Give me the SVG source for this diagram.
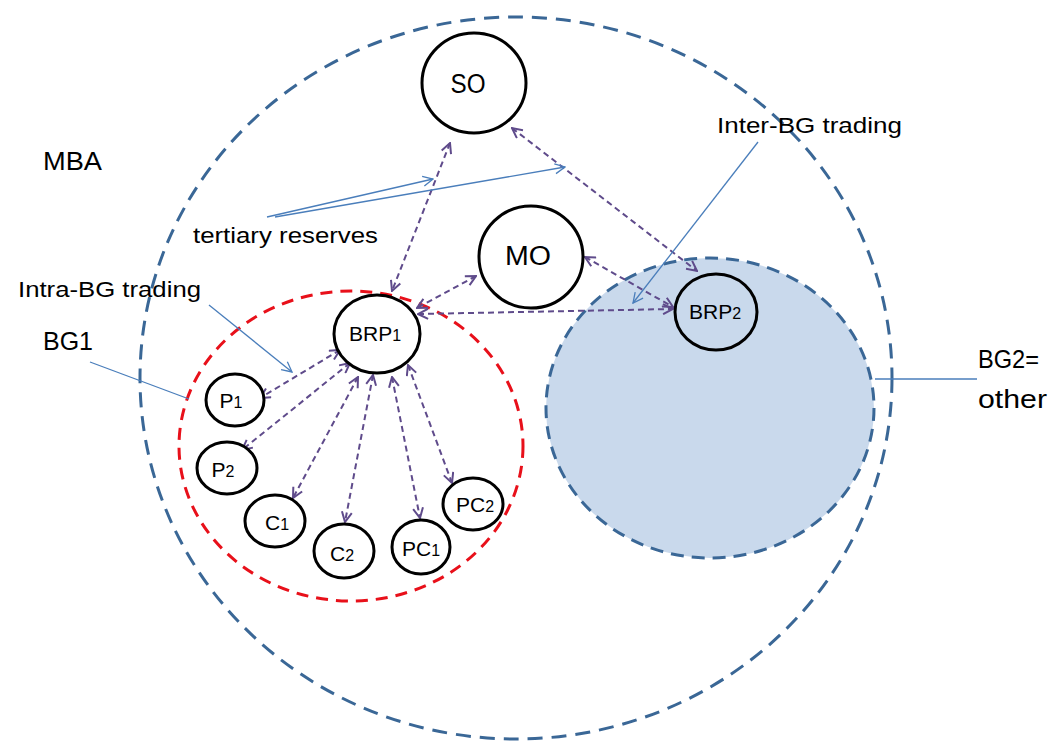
<svg xmlns="http://www.w3.org/2000/svg" width="1064" height="744" viewBox="0 0 1064 744">
<style>
text{font-family:"Liberation Sans",Arial,sans-serif;fill:#000}
.node{fill:#fff;stroke:#000;stroke-width:3}
.lbl{font-size:21px;text-anchor:middle}
.big{font-size:27px;text-anchor:middle}
.note{font-size:22px}
.rel{stroke:#5f4b8b;stroke-width:2;stroke-dasharray:6 4;fill:none;marker-start:url(#pa);marker-end:url(#pa)}
.call{stroke:#4a7ebb;stroke-width:1.3;fill:none}
.calla{stroke:#4a7ebb;stroke-width:1.3;fill:none;marker-end:url(#ba)}
</style>
<defs>
<marker id="pa" viewBox="0 0 12 12" refX="11" refY="6" markerWidth="12" markerHeight="12" markerUnits="userSpaceOnUse" orient="auto-start-reverse">
<path d="M1,1 L11,6 L1,11" fill="none" stroke="#5f4b8b" stroke-width="2"/>
</marker>
<marker id="ba" viewBox="0 0 12 12" refX="11" refY="6" markerWidth="12" markerHeight="12" markerUnits="userSpaceOnUse" orient="auto">
<path d="M1,1 L11,6 L1,11" fill="none" stroke="#4a7ebb" stroke-width="1.3"/>
</marker>
</defs>
<rect width="1064" height="744" fill="#fff"/>
<g id="areas">
<ellipse id="MBA-area" cx="516" cy="378" rx="376" ry="361" fill="none" stroke="#3a6796" stroke-width="3" stroke-dasharray="15 9"/>
<ellipse id="BG2-area" cx="710" cy="408" rx="164" ry="150" fill="#c9d9ec" stroke="#3a6796" stroke-width="3" stroke-dasharray="13 8"/>
<ellipse id="BG1-area" cx="351" cy="446" rx="172" ry="155" fill="none" stroke="#e8101a" stroke-width="3" stroke-dasharray="12 8"/>
</g>
<g id="connectors">
<line class="rel" x1="450" y1="143" x2="392" y2="291"/>
<line class="rel" x1="512" y1="128" x2="697" y2="271"/>
<line class="rel" x1="476" y1="276" x2="417" y2="308"/>
<line class="rel" x1="585" y1="257" x2="673" y2="307"/>
<line class="rel" x1="418" y1="314" x2="673" y2="309"/>
<line class="rel" x1="340" y1="350" x2="260" y2="398"/>
<line class="rel" x1="350" y1="363" x2="242" y2="450"/>
<line class="rel" x1="358" y1="377" x2="293" y2="498"/>
<line class="rel" x1="373" y1="375" x2="345" y2="522"/>
<line class="rel" x1="392" y1="377" x2="420" y2="518"/>
<line class="rel" x1="408" y1="365" x2="452" y2="483"/>
<line class="calla" x1="267" y1="217" x2="433" y2="179"/>
<line class="calla" x1="275" y1="217" x2="565" y2="167"/>
<line class="calla" x1="209" y1="305" x2="292" y2="372"/>
<line class="call" x1="90" y1="362" x2="189" y2="399"/>
<line class="calla" x1="758" y1="142" x2="633" y2="303"/>
<line class="call" x1="875" y1="379" x2="977" y2="379"/>
</g>
<g id="SO"><ellipse class="node" cx="474" cy="83" rx="52" ry="50"/><text class="big" x="468" y="93" textLength="35" lengthAdjust="spacingAndGlyphs">SO</text></g>
<g id="MO"><ellipse class="node" cx="531" cy="257" rx="52" ry="51"/><text class="big" x="528" y="265" textLength="46" lengthAdjust="spacingAndGlyphs">MO</text></g>
<g id="BRP1"><ellipse class="node" cx="377" cy="334" rx="43" ry="39"/><text class="lbl" x="375" y="341">BRP<tspan font-size="16">1</tspan></text></g>
<g id="BRP2"><ellipse cx="716" cy="312" rx="41" ry="38" fill="none" stroke="#000" stroke-width="3"/><text class="lbl" x="715" y="319">BRP<tspan font-size="16">2</tspan></text></g>
<g id="P1"><ellipse class="node" cx="235" cy="400" rx="29" ry="26"/><text class="lbl" x="231" y="408">P<tspan font-size="16">1</tspan></text></g>
<g id="P2"><ellipse class="node" cx="227" cy="468" rx="30" ry="26"/><text class="lbl" x="223" y="477">P<tspan font-size="16">2</tspan></text></g>
<g id="C1"><ellipse class="node" cx="275" cy="521" rx="30" ry="26"/><text class="lbl" x="277" y="530">C<tspan font-size="16">1</tspan></text></g>
<g id="C2"><ellipse class="node" cx="344" cy="551" rx="30" ry="27"/><text class="lbl" x="342" y="561">C<tspan font-size="16">2</tspan></text></g>
<g id="PC1"><ellipse class="node" cx="421" cy="547" rx="29" ry="27"/><text class="lbl" x="421" y="556">PC<tspan font-size="16">1</tspan></text></g>
<g id="PC2"><ellipse class="node" cx="473" cy="504" rx="30" ry="26"/><text class="lbl" x="475" y="512">PC<tspan font-size="16">2</tspan></text></g>
<g id="labels">
<text x="43" y="170" font-size="26" textLength="59" lengthAdjust="spacingAndGlyphs">MBA</text>
<text class="note" x="193" y="243" textLength="185" lengthAdjust="spacingAndGlyphs">tertiary reserves</text>
<text class="note" x="18" y="297" textLength="183" lengthAdjust="spacingAndGlyphs">Intra-BG trading</text>
<text x="43" y="350" font-size="26" textLength="50" lengthAdjust="spacingAndGlyphs">BG1</text>
<text class="note" x="717" y="133" textLength="185" lengthAdjust="spacingAndGlyphs">Inter-BG trading</text>
<text x="978" y="368" font-size="26" textLength="61" lengthAdjust="spacingAndGlyphs">BG2=</text>
<text x="978" y="408" font-size="26" textLength="69" lengthAdjust="spacingAndGlyphs">other</text>
</g>
</svg>
